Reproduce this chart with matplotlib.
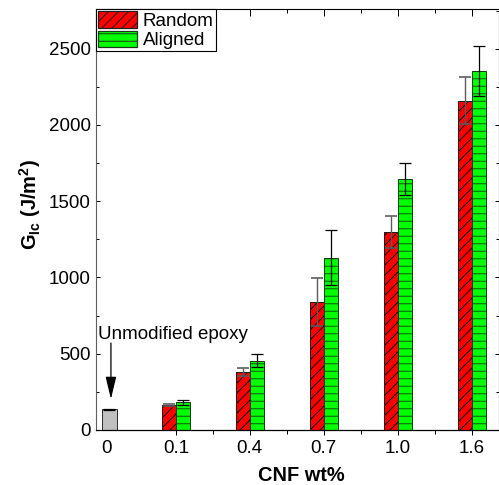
import numpy as np
import matplotlib
matplotlib.use("Agg")
import matplotlib.pyplot as plt
from matplotlib.patches import Patch
from matplotlib.ticker import MultipleLocator, FixedLocator

plt.rcParams['font.family'] = ['Liberation Sans', 'DejaVu Sans']
plt.rcParams['mathtext.fontset'] = 'custom'
plt.rcParams['mathtext.rm'] = 'Liberation Sans'
plt.rcParams['mathtext.bf'] = 'Liberation Sans:bold'
plt.rcParams['hatch.linewidth'] = 0.8

# data
categories = ['0.1', '0.4', '0.7', '1.0', '1.6']
random_mean = [164, 378, 840, 1295, 2158]
random_err = [5, 27, 157, 105, 155]
aligned_mean = [182, 455, 1130, 1645, 2355]
aligned_err = [15, 40, 180, 103, 165]
neat_mean = 135
neat_err = 4

dpi = 90
fig = plt.figure(figsize=(499 / dpi, 485 / dpi), dpi=dpi)
ax = fig.add_axes([96 / 499, 1 - 430 / 485, 403 / 499, 421 / 485])

x = np.arange(1, len(categories) + 1)
w = 0.19
xr = x - w / 2
xa = x + w / 2

# unmodified epoxy
ax.bar(0.10, neat_mean, 0.2, color='#c0c0c0', edgecolor='#303030', lw=0.8, zorder=2)
ax.errorbar(0.10, neat_mean, yerr=neat_err, fmt='none', ecolor='black',
            elinewidth=1, capsize=4.4, capthick=1, zorder=4)

# random: hatch layer then outline
ax.bar(xr, random_mean, w, color='#ff0000', edgecolor='black', lw=0, hatch='///', zorder=2)
ax.bar(xr, random_mean, w, fill=False, edgecolor='#202020', lw=0.8, zorder=3)
ax.errorbar(xr, random_mean, yerr=random_err, fmt='none', ecolor='#5a5a5a',
            elinewidth=1.1, capsize=4.4, capthick=1.3, zorder=4)

# aligned
ax.bar(xa, aligned_mean, w, color='#00ff00', edgecolor='#0a5a0a', lw=0, hatch='--', zorder=2)
ax.bar(xa, aligned_mean, w, fill=False, edgecolor='#1a3a1a', lw=0.8, zorder=3)
ax.errorbar(xa, aligned_mean, yerr=aligned_err, fmt='none', ecolor='black',
            elinewidth=1, capsize=4.4, capthick=1, zorder=4)

ax.set_xlim(-0.08, 5.37)
ax.set_ylim(0, 2760)

ax.set_xticks([0.068] + list(x))
ax.set_xticklabels(['0'] + categories)
ax.xaxis.get_major_ticks()[0].tick1line.set_visible(False)
ax.xaxis.set_minor_locator(FixedLocator([1.5, 2.5, 3.5, 4.5]))
ax.tick_params(axis='x', which='major', direction='out', length=4, width=0.8,
               labelsize=15, pad=4, top=False)
ax.tick_params(axis='x', which='minor', direction='out', length=3.2, width=0.8, top=False)

top = ax.secondary_xaxis('top')
top.set_xticks(list(x))
top.xaxis.set_minor_locator(FixedLocator([1.5, 2.5, 3.5, 4.5]))
top.tick_params(axis='x', which='major', direction='in', length=5.6, width=0.8, labeltop=False)
top.tick_params(axis='x', which='minor', direction='in', length=3.2, width=0.8)
top.spines['top'].set_linewidth(0.9)

ax.set_yticks(np.arange(0, 2501, 500))
ax.yaxis.set_minor_locator(MultipleLocator(250))
ax.tick_params(axis='y', which='both', direction='in', left=True, right=True,
               width=0.8, labelsize=15, pad=4)
ax.tick_params(axis='y', which='major', length=3.5)
ax.tick_params(axis='y', which='minor', length=2.5)

ax.spines['left'].set_color('#606060')
ax.spines['left'].set_linewidth(0.9)
ax.spines['bottom'].set_linewidth(1.0)
ax.spines['top'].set_visible(False)
ax.spines['right'].set_linewidth(0.9)

fig.text(30 / 499, 1 - 205 / 485, r'$\mathbf{G}_{\mathbf{Ic}}$ $\mathbf{(J/m^2)}$',
         rotation=90, ha='center', va='center', fontsize=16)
fig.text(301 / 499, 1 - 475 / 485, 'CNF wt%', ha='center', va='center',
         fontsize=16, fontweight='bold')

ax.text(-0.054, 597, 'Unmodified epoxy', fontsize=15, ha='left', va='baseline')
ax.annotate('', xy=(0.122, 203), xytext=(0.122, 570),
            arrowprops=dict(arrowstyle='-|>,head_length=1.0,head_width=0.24',
                            color='black', lw=1, shrinkA=0, shrinkB=0,
                            mutation_scale=15.2))

handles = [Patch(facecolor='#ff0000', edgecolor='#202020', hatch='///'),
           Patch(facecolor='#00ff00', edgecolor='#1a3a1a', hatch='--')]
leg = ax.legend(handles, ['Random', 'Aligned'], loc='upper left', fontsize=15,
                frameon=True, fancybox=False, edgecolor='black', framealpha=1,
                borderaxespad=0, borderpad=0.1, handlelength=2.1, handleheight=1.0,
                labelspacing=0.05, handletextpad=0.3)
leg.get_frame().set_linewidth(0.9)

fig.savefig('out.png', dpi=dpi)
